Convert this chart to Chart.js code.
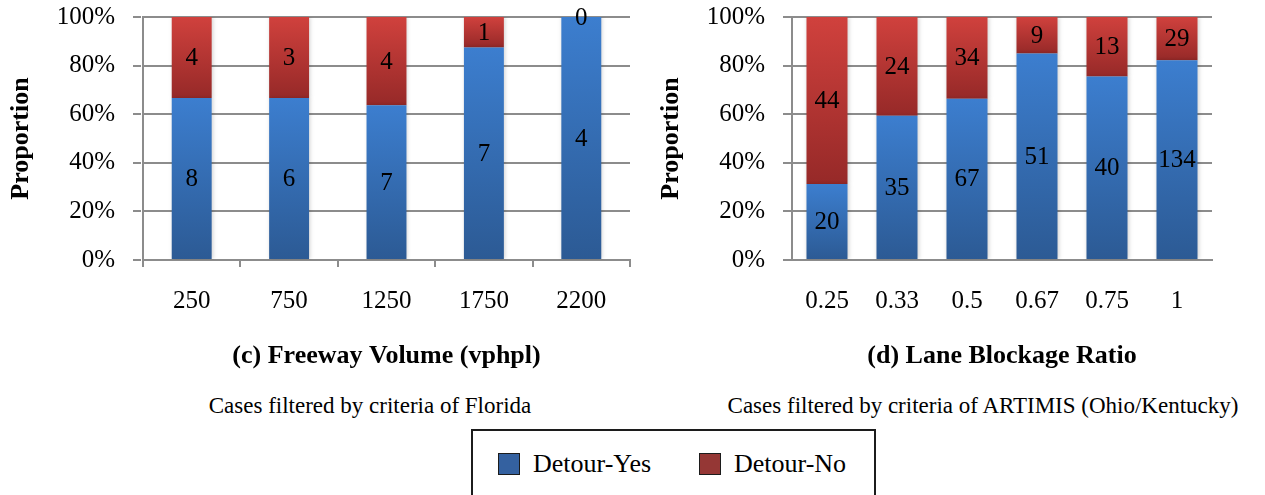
<!DOCTYPE html>
<html>
<head>
<meta charset="utf-8">
<script src="https://cdn.jsdelivr.net/npm/chart.js@4.4.1/dist/chart.umd.min.js"></script>
<style>
    html, body { margin: 0; padding: 0; background: #fff; }
    body { width: 1265px; height: 495px; overflow: hidden; position: relative;
           font-family: "Liberation Serif", "Times New Roman", serif; color: #000; }
    canvas { position: absolute; top: 0; }
    #chart-volume { left: 0; }
    #chart-blockage { left: 650px; }
    .note { position: absolute; top: 392px; width: 640px; text-align: center;
            font-size: 23px; line-height: 27px; white-space: nowrap; }
    .legend-box { position: absolute; left: 471px; top: 429px; width: 401px; height: 90px;
                  border: 2px solid #1c1c1c; box-sizing: content-box; }
    .legend-item { position: absolute; top: 20px; display: flex; align-items: center; font-size: 26px; line-height: 26px; }
    .legend-item .swatch { width: 20px; height: 20px; border: 1px solid #1c1c1c; margin-right: 13px; }
</style>
</head>
<body>
<canvas id="chart-volume" width="650" height="380"></canvas>
<canvas id="chart-blockage" width="615" height="380"></canvas>
<div class="note" style="left:50px">Cases filtered by criteria of Florida</div>
<div class="note" style="left:663px">Cases filtered by criteria of ARTIMIS (Ohio/Kentucky)</div>
<div class="legend-box" id="legend"></div>
<script>
// (c) freeway volume, cases filtered by Florida criteria
const volumeLabels = ['250', '750', '1250', '1750', '2200'];
const volumeYes = [8, 6, 7, 7, 4];
const volumeNo = [4, 3, 4, 1, 0];

// (d) lane blockage ratio, cases filtered by ARTIMIS criteria
const blockageLabels = ['0.25', '0.33', '0.5', '0.67', '0.75', '1'];
const blockageYes = [20, 35, 67, 51, 40, 134];
const blockageNo = [44, 24, 34, 9, 13, 29];

const seriesNames = ['Detour-Yes', 'Detour-No'];
const yTickValues = [0, 20, 40, 60, 80, 100];

const FONT = '"Liberation Serif", "Times New Roman", serif';
const GRID = '#8c8c8c';
const GRADIENTS = {
    yes: ['#3c7ecf', '#2c5a94'],
    no:  ['#d0413d', '#962928'],
};
const SWATCH = { yes: '#3461a0', no: '#953735' };

Chart.defaults.font.family = FONT;
Chart.defaults.color = '#000';

function share(part, other) {
    return part.map((v, i) => v / (v + other[i]) * 100);
}

// every stacked segment gets its own top-to-bottom gradient
function segmentFill(stops) {
    return (c) => {
        const chart = c.chart;
        const y = chart.scales.y;
        if (c.type !== 'data' || !chart.chartArea || !y) return stops[0];
        const sets = chart.data.datasets;
        let lo = 0;
        for (let k = 0; k < c.datasetIndex; k++) lo += sets[k].data[c.dataIndex];
        const hi = lo + sets[c.datasetIndex].data[c.dataIndex];
        const top = y.getPixelForValue(hi), bottom = y.getPixelForValue(lo);
        if (bottom - top < 1) return stops[0];
        const g = chart.ctx.createLinearGradient(0, top, 0, bottom);
        g.addColorStop(0, stops[0]);
        g.addColorStop(1, stops[1]);
        return g;
    };
}

const segmentLabels = {
    id: 'segmentLabels',
    beforeDatasetsDraw(chart) {
        const ctx = chart.ctx;
        ctx.save();
        ctx.shadowColor = 'rgba(0,0,0,0.18)';
        ctx.shadowBlur = 4;
        ctx.shadowOffsetX = 1;
    },
    afterDatasetsDraw(chart) {
        const ctx = chart.ctx;
        ctx.restore();
        ctx.save();
        ctx.font = '25px ' + FONT;
        ctx.fillStyle = '#000';
        ctx.textAlign = 'center';
        ctx.textBaseline = 'middle';
        chart.data.datasets.forEach((ds, i) => {
            chart.getDatasetMeta(i).data.forEach((bar, j) => {
                ctx.fillText(String(ds.counts[j]), bar.x, (bar.y + bar.base) / 2 + 1);
            });
        });
        ctx.restore();
    },
};

function makeChart(id, opts) {
    const datasets = [
        { label: seriesNames[0], counts: opts.yes, data: share(opts.yes, opts.no),
          backgroundColor: segmentFill(GRADIENTS.yes) },
        { label: seriesNames[1], counts: opts.no, data: share(opts.no, opts.yes),
          backgroundColor: segmentFill(GRADIENTS.no) },
    ].map(d => Object.assign(d, {
        borderWidth: 0,
        barPercentage: opts.barPct,
        categoryPercentage: 1,
    }));

    return new Chart(document.getElementById(id), {
        type: 'bar',
        data: { labels: opts.labels, datasets },
        plugins: [segmentLabels],
        options: {
            responsive: false,
            animation: false,
            layout: { padding: { left: 0, right: opts.padRight, top: 17, bottom: 8 } },
            plugins: {
                legend: { display: false },
                tooltip: { enabled: false },
                title: { display: false },
            },
            scales: {
                x: {
                    stacked: true,
                    offset: true,
                    afterFit: s => { s.height = 112; },
                    border: { display: true, color: GRID, width: 2 },
                    grid: {
                        display: true,
                        drawOnChartArea: false,
                        offset: true,
                        color: GRID,
                        lineWidth: 2,
                        tickLength: 7,
                        tickColor: opts.xTicks ? GRID : 'rgba(0,0,0,0)',
                    },
                    ticks: { font: { size: 25 }, padding: 19, color: '#000', autoSkip: false, maxRotation: 0 },
                    title: {
                        display: true,
                        text: opts.axisTitle,
                        font: { size: 26, weight: 'bold' },
                        color: '#000',
                        padding: { top: 0, bottom: 0 },
                    },
                },
                y: {
                    stacked: true,
                    min: 0,
                    max: 100,
                    afterFit: s => {
                        s.width = opts.yWidth;
                        s.paddingTop = 0;
                        s.paddingBottom = 0;
                    },
                    afterBuildTicks: s => { s.ticks = yTickValues.map(v => ({ value: v })); },
                    border: { display: true, color: GRID, width: 2 },
                    grid: {
                        color: GRID,
                        lineWidth: 2,
                        borderDash: [8, 6],
                        tickLength: opts.yTickLen,
                        tickColor: GRID,
                        tickBorderDash: opts.dashedTicks ? [8, 6] : [],
                    },
                    ticks: { font: { size: 25 }, padding: 18, color: '#000', callback: v => v + '%' },
                    title: {
                        display: true,
                        text: 'Proportion',
                        font: { size: 26, weight: 'bold' },
                        color: '#000',
                        padding: { top: 6, bottom: 0 },
                    },
                },
            },
        },
    });
}

makeChart('chart-volume', {
    labels: volumeLabels, yes: volumeYes, no: volumeNo,
    axisTitle: '(c) Freeway Volume (vphpl)',
    barPct: 0.41, padRight: 20, yWidth: 143, yTickLen: 10, dashedTicks: true, xTicks: true,
});

makeChart('chart-blockage', {
    labels: blockageLabels, yes: blockageYes, no: blockageNo,
    axisTitle: '(d) Lane Blockage Ratio',
    barPct: 0.586, padRight: 53, yWidth: 142, yTickLen: 9, dashedTicks: false, xTicks: false,
});

function renderLegend() {
    const box = document.getElementById('legend');
    const lefts = [25, 226];
    const colors = [SWATCH.yes, SWATCH.no];
    box.innerHTML = seriesNames.map((name, i) => `
        <div class="legend-item" style="left:${lefts[i]}px">
            <span class="swatch" style="background:${colors[i]}"></span><span>${name}</span>
        </div>`).join('');
}
renderLegend();
</script>
</body>
</html>
